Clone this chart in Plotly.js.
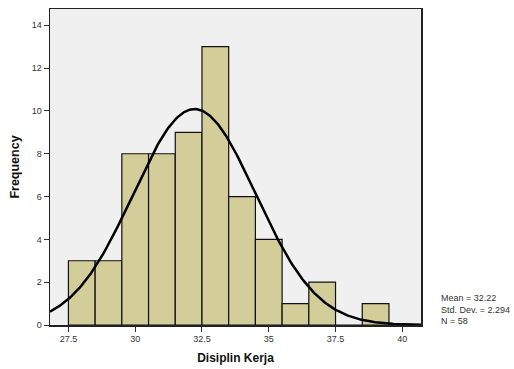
<!DOCTYPE html>
<html>
<head>
<meta charset="utf-8">
<script src="https://cdn.plot.ly/plotly-3.0.1.min.js"></script>
<style>html,body{margin:0;padding:0;background:#fff;}#chart{width:514px;height:369px;}</style>
</head>
<body>
<div id="chart"></div>
<script>
// Histogram bins (centers, width 1) and frequencies
const binCenters = [28, 29, 30, 31, 32, 33, 34, 35, 36, 37, 38, 39];
const frequencies = [3, 3, 8, 8, 9, 13, 6, 4, 1, 2, 0, 1];
const binWidth = 1;
// Reported statistics
const mean = 32.22;
const stdDev = 2.294;
const nObs = 58;
const xTicks = [27.5, 30, 32.5, 35, 37.5, 40];
const xTickLabels = ['27.5', '30', '32.5', '35', '37.5', '40'];
const yTicks = [0, 2, 4, 6, 8, 10, 12, 14];

const xRange = [26.81, 40.70];
const yRange = [0, 14.76];

// Normal curve defined by the reported mean / std. dev. / N
const curveX = [];
const curveY = [];
for (let i = 0; i <= 300; i++) {
  const x = xRange[0] + (xRange[1] - xRange[0]) * i / 300;
  const z = (x - mean) / stdDev;
  curveX.push(x);
  curveY.push(nObs * binWidth * Math.exp(-0.5 * z * z) / (stdDev * Math.sqrt(2 * Math.PI)));
}

const traces = [
  {
    type: 'bar',
    x: binCenters,
    y: frequencies,
    width: binWidth,
    marker: {color: '#d3ce99', line: {color: '#111', width: 1.2}},
    hoverinfo: 'x+y'
  },
  {
    type: 'scatter',
    mode: 'lines',
    x: curveX,
    y: curveY,
    line: {color: '#000', width: 2.5},
    hoverinfo: 'skip'
  }
];

const layout = {
  width: 514,
  height: 369,
  margin: {l: 50, r: 93, t: 9, b: 44},
  paper_bgcolor: '#ffffff',
  plot_bgcolor: '#f0f0f0',
  showlegend: false,
  font: {family: 'Liberation Sans, Arial, sans-serif', size: 9, color: '#333'},
  bargap: 0,
  xaxis: {
    range: xRange,
    tickvals: xTicks,
    ticktext: xTickLabels,
    ticks: 'outside',
    ticklen: 5,
    tickcolor: '#333',
    showgrid: false,
    zeroline: false,
    showline: true,
    linecolor: '#222',
    linewidth: 1.5,
    mirror: true,
    tickfont: {size: 9, color: '#333'},
    title: {text: 'Disiplin Kerja', font: {size: 12, color: '#111', family: 'Liberation Sans, Arial, sans-serif', weight: 'bold'}, standoff: 10}
  },
  yaxis: {
    range: yRange,
    tickvals: yTicks,
    ticks: 'outside',
    ticklen: 5,
    tickcolor: '#333',
    showgrid: false,
    zeroline: false,
    showline: true,
    linecolor: '#222',
    linewidth: 1.5,
    mirror: true,
    tickfont: {size: 9, color: '#333'},
    title: {text: 'Frequency', font: {size: 12.5, color: '#111', family: 'Liberation Sans, Arial, sans-serif', weight: 'bold'}, standoff: 9}
  },
  annotations: [
    {
      xref: 'paper', yref: 'paper',
      x: 1.048, y: 0.048,
      xanchor: 'left', yanchor: 'middle',
      align: 'left',
      showarrow: false,
      text: 'Mean = 32.22<br>Std. Dev. = 2.294<br>N = 58',
      font: {size: 9, color: '#333'}
    }
  ]
};

Plotly.newPlot('chart', traces, layout, {displayModeBar: false, staticPlot: true});
</script>
</body>
</html>
